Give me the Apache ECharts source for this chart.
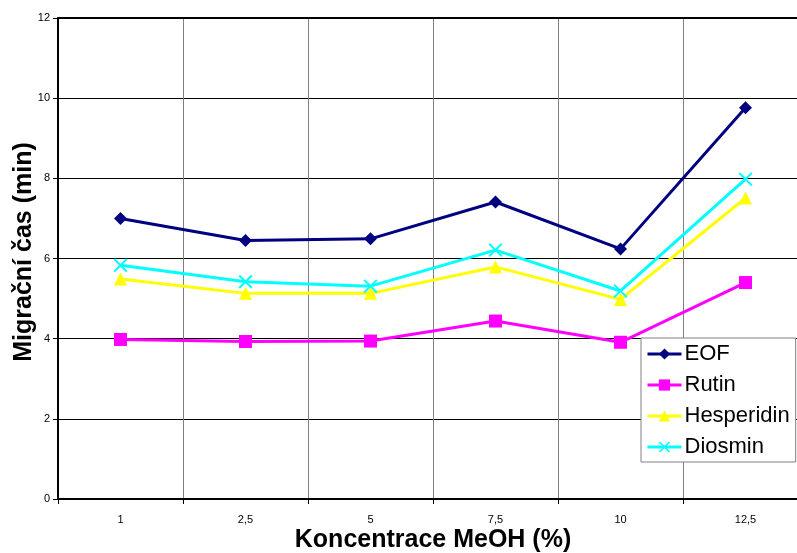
<!DOCTYPE html>
<html>
<head>
<meta charset="utf-8">
<script src="https://cdn.jsdelivr.net/npm/echarts@6/dist/echarts.min.js"></script>
<style>
  html, body { margin: 0; padding: 0; background: #fff; overflow: hidden; }
  /* the plot area runs on a little past the right edge of the window */
  #chart { width: 812px; height: 553px; }
</style>
</head>
<body>
<div id="chart"></div>
<script>
// Methanol concentration (%) on the category axis
const categories = ['1', '2,5', '5', '7,5', '10', '12,5'];
// Migration times (min)
const eof        = [7.00, 6.45, 6.49, 7.41, 6.24, 9.76];
const rutin      = [3.98, 3.93, 3.94, 4.44, 3.91, 5.40];
const hesperidin = [5.49, 5.13, 5.13, 5.79, 4.98, 7.51];
const diosmin    = [5.83, 5.42, 5.31, 6.21, 5.19, 7.98];
const yTicks = [0, 2, 4, 6, 8, 10, 12];

const FONT = 'Liberation Sans, Arial, sans-serif';
const crossPath = 'path://M0,1L1,0L5,4L9,0L10,1L6,5L10,9L9,10L5,6L1,10L0,9L4,5Z';

function lineSeries(name, data, color, symbol, size) {
  return {
    name, type: 'line', data,
    symbol, symbolSize: size,
    lineStyle: { color, width: 3 },
    itemStyle: { color },
    emphasis: { disabled: true },
    animation: false,
    z: 5
  };
}

const chart = echarts.init(document.getElementById('chart'), null, { renderer: 'canvas' });
chart.setOption({
  backgroundColor: '#fff',
  animation: false,
  grid: { left: 58, top: 18, width: 750, height: 481, containLabel: false },
  xAxis: [{
    type: 'category',
    data: categories,
    boundaryGap: true,
    axisLine: { lineStyle: { color: '#000', width: 2 } },
    axisTick: { show: true, inside: false, length: 5, alignWithLabel: false, lineStyle: { color: '#000', width: 1 } },
    axisLabel: { color: '#000', fontSize: 11, fontFamily: FONT, margin: 15 },
    splitLine: { show: true, lineStyle: { color: '#808080', width: 1 } }
  }, {
    type: 'category',
    data: categories,
    position: 'top',
    axisLine: { show: true, onZero: false, lineStyle: { color: '#000', width: 2 } },
    axisTick: { show: false },
    axisLabel: { show: false },
    splitLine: { show: false }
  }],
  yAxis: {
    type: 'value',
    min: yTicks[0], max: yTicks[yTicks.length - 1], interval: 2,
    axisLine: { show: true, lineStyle: { color: '#000', width: 2 } },
    axisTick: { show: true, inside: false, length: 5, lineStyle: { color: '#000', width: 1 } },
    axisLabel: { color: '#000', fontSize: 11, fontFamily: FONT, margin: 8 },
    splitLine: { show: true, lineStyle: { color: '#000', width: 1 } }
  },
  legend: {
    orient: 'vertical',
    left: 641, top: 338,
    padding: [5, 6, 4, 5],
    itemGap: 9,
    itemWidth: 34, itemHeight: 14,
    backgroundColor: '#fff',
    borderColor: '#808080', borderWidth: 1,
    lineStyle: { width: 3 },
    textStyle: { color: '#000', fontSize: 22, fontFamily: FONT, padding: [0, 0, 0, -2] },
    data: ['EOF', 'Rutin', 'Hesperidin', 'Diosmin'],
    selectedMode: false
  },
  graphic: [{
    type: 'text',
    rotation: Math.PI / 2,
    x: 24, y: 252,
    style: {
      text: 'Migrační čas (min)',
      font: 'bold 25px ' + FONT,
      fill: '#000',
      align: 'center',
      verticalAlign: 'middle'
    }
  }, {
    type: 'text',
    x: 433, y: 540,
    style: {
      text: 'Koncentrace MeOH (%)',
      font: 'bold 25px ' + FONT,
      fill: '#000',
      align: 'center',
      verticalAlign: 'middle'
    }
  }],
  series: [
    lineSeries('EOF', eof, '#000080', 'diamond', 13),
    lineSeries('Rutin', rutin, '#ff00ff', 'rect', 13),
    lineSeries('Hesperidin', hesperidin, '#ffff00', 'triangle', 13),
    lineSeries('Diosmin', diosmin, '#00ffff', crossPath, 14)
  ]
});
</script>
</body>
</html>
